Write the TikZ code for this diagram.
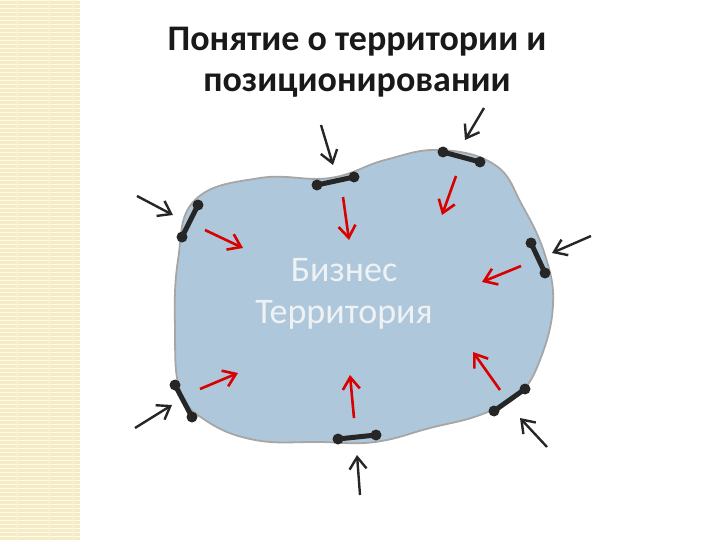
\documentclass[tikz,border=0pt]{standalone}
\usepackage{fontspec}
\setmainfont{Carlito}
\usetikzlibrary{arrows.meta}
\definecolor{blobc}{HTML}{AFC7DA}
\definecolor{stripc}{HTML}{F6EBC8}
\definecolor{bizc}{HTML}{EEF2F5}
\begin{document}
\begin{tikzpicture}[x=1pt,y=-1pt,
 bar/.style={line width=5pt,black!85},
 dot/.style={circle,fill=black!85,inner sep=0pt,minimum size=11pt},
 barr/.style={-{Straight Barb[length=12pt,width=17pt,line width=2.4pt]},line width=2.4pt,black!85},
 rarr/.style={-{Straight Barb[length=12pt,width=17pt,line width=2.6pt]},line width=2.6pt,red!85!black}]
\useasboundingbox (0,0) rectangle (720,540);
\fill[stripc] (0,0) rectangle (80,540);
\foreach \y in {0,4,...,540}{\draw[white!60!yellow!30,line width=0.8pt] (0,\y) -- (80,\y);}
\foreach \x in {16,48,72}{\draw[orange!15,line width=0.6pt] (\x,0) -- (\x,540);}
\node[font=\bfseries\fontsize{36}{41}\selectfont,text=black!90,align=center] (title) at (357,62) {Понятие о территории и\\позиционировании};
\draw[fill=blobc,draw=gray!70,line width=1.8pt] plot[smooth cycle,tension=0.7] coordinates{
(195,200) (260,178) (330,178) (385,160) (440,150) (495,165) (522,205) (545,255) (553,305) (540,360) (518,395) (480,415) (430,428) (375,442) (320,442) (255,440) (205,420) (180,390) (175,330) (178,260)};
\node[text=bizc,font=\fontsize{36}{42}\selectfont,align=center] (biz) at (344,294) {Бизнес\\Территория};
\foreach \i/\ax/\ay/\bx/\by in {1/182/237/198/205, 2/317/185/354/177, 3/443/152/480/162, 4/531/243/545/273, 5/494/411/525/389, 6/338/439/376/435, 7/175/385/192/417}{
 \node[dot] (p\i a) at (\ax,\ay) {}; \node[dot] (p\i b) at (\bx,\by) {};
 \draw[bar] (p\i a.center) -- (p\i b.center);}
\foreach \i/\ax/\ay/\bx/\by in {1/137/196/173/215, 2/321/125/333/165, 3/484/108/465/140, 4/591/236/552/253, 5/547/447/520/418, 6/360/495/357/455, 7/135/428/172/405}{
 \coordinate (k\i) at (\ax,\ay); \coordinate (l\i) at (\bx,\by); \draw[barr] (k\i) -- (l\i);}
\foreach \i/\ax/\ay/\bx/\by in {1/205/230/243/248, 2/343/197/349/240, 3/456/176/442/215, 4/521/266/482/282, 5/500/390/473/352, 6/354/418/350/375, 7/200/389/238/373}{
 \coordinate (r\i) at (\ax,\ay); \coordinate (s\i) at (\bx,\by); \draw[rarr] (r\i) -- (s\i);}
\end{tikzpicture}
\end{document}
